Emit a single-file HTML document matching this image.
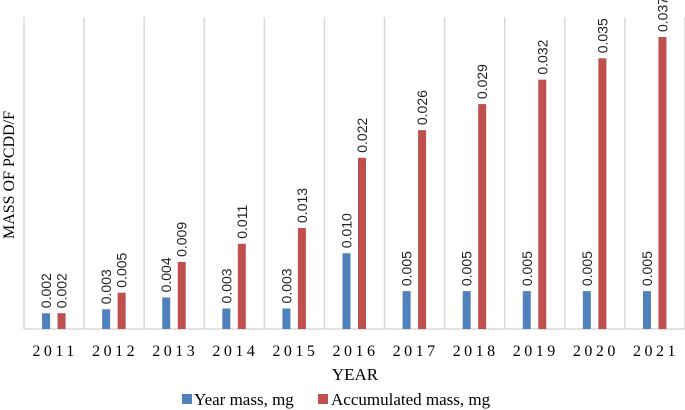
<!DOCTYPE html>
<html><head><meta charset="utf-8"><style>
body{margin:0;background:#fff;}
svg{display:block;}
.ser{font-family:"Liberation Serif",serif;fill:#000;}
.lbl{font-family:"Liberation Sans",sans-serif;font-size:14px;fill:#222;}
</style></head><body>
<svg id="chart" width="685" height="410">
<g id="grid"></g><g id="bars"></g><g id="labels"></g><g id="xt"></g>
<text class="ser" font-size="16" transform="translate(14,175) rotate(-90)" text-anchor="middle">MASS OF PCDD/F</text>
<text class="ser" font-size="17" x="355" y="380" text-anchor="middle">YEAR</text>
<g>
<rect x="182" y="394" width="10" height="10" fill="#4f81bd"/>
<text class="ser" font-size="17" x="194" y="405">Year mass, mg</text>
<rect x="318" y="394" width="10" height="10" fill="#c0504d"/>
<text class="ser" font-size="17" x="331" y="405">Accumulated mass, mg</text>
</g>
</svg>
<script>
const years=["2011","2012","2013","2014","2015","2016","2017","2018","2019","2020","2021"];
const yearMass=[0.002,0.0025,0.004,0.0026,0.0026,0.0096,0.0048,0.0048,0.0048,0.0048,0.0048];
const accMass=[0.002,0.0046,0.0085,0.0108,0.0128,0.0217,0.0252,0.0285,0.0316,0.0343,0.037];
const yearLabels=["0.002","0.003","0.004","0.003","0.003","0.010","0.005","0.005","0.005","0.005","0.005"];
const accLabels=["0.002","0.005","0.009","0.011","0.013","0.022","0.026","0.029","0.032","0.035","0.037"];
const NS="http://www.w3.org/2000/svg";
const x0=24,x1=685,base=329,step=(x1-x0)/years.length;
const y=v=>base-v*(292/0.037);
const cx=i=>x0+step*(i+0.5);
function mk(t,a,p){const e=document.createElementNS(NS,t);for(const k in a)e.setAttribute(k,a[k]);p.appendChild(e);return e;}
const g=document.getElementById('grid'),b=document.getElementById('bars'),l=document.getElementById('labels'),xt=document.getElementById('xt');
for(let i=0;i<=years.length;i++){const xx=x0+step*i;const ln=mk('line',{x1:xx,x2:xx,y1:17,y2:base,stroke:'#d9d9d9','stroke-width':1.5},g);

}
const ax=mk('line',{x1:x0,x2:x1,y1:base,y2:base,stroke:'#d9d9d9','stroke-width':1.5},g);


years.forEach((yr,i)=>{
 const c=cx(i);
 const r1=mk('rect',{x:c-12,y:y(yearMass[i]),width:8,height:base-y(yearMass[i]),fill:'#4f81bd'},b);
 
 
 const r2=mk('rect',{x:c+3.5,y:y(accMass[i]),width:8,height:base-y(accMass[i]),fill:'#c0504d'},b);
 
 
 const t1=mk('text',{class:'lbl',transform:`translate(${c-3},${y(yearMass[i])-5}) rotate(-90)`},l);t1.textContent=yearLabels[i];
 
 
 const t2=mk('text',{class:'lbl',transform:`translate(${c+12.5},${y(accMass[i])-5}) rotate(-90)`},l);t2.textContent=accLabels[i];
 
 
 const tx=mk('text',{class:'ser','font-size':16,x:c+1,y:356,'text-anchor':'middle','letter-spacing':'3.5px'},xt);tx.textContent=yr;
 
 
});
</script>
</body></html>
